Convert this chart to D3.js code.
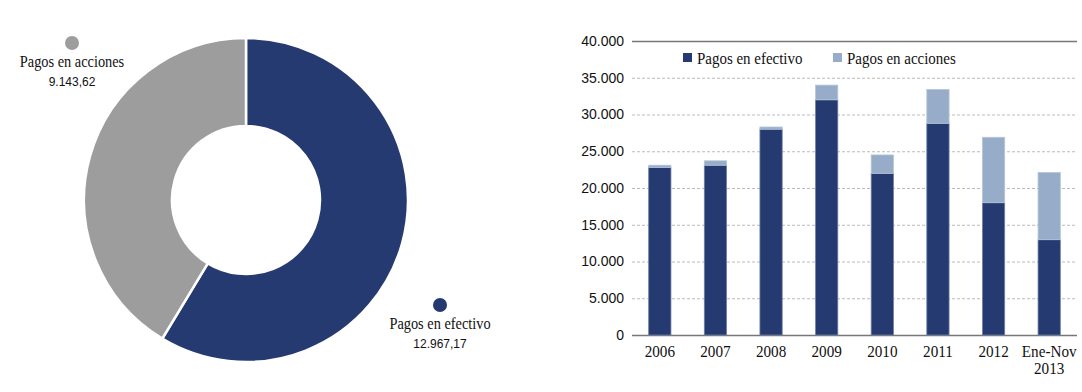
<!DOCTYPE html>
<html>
<head>
<meta charset="utf-8">
<script src="https://cdn.jsdelivr.net/npm/d3@7"></script>
<style>
  body { margin: 0; background: #fff; }
  svg { display: block; }
</style>
</head>
<body>
<svg id="chart" width="1082" height="392"></svg>
<script>
// donut data
var donutNames = ["Pagos en efectivo", "Pagos en acciones"];
var donutValues = [12967.17, 9143.62];
var donutLabels = ["12.967,17", "9.143,62"];

// bar data
var years = ["2006", "2007", "2008", "2009", "2010", "2011", "2012", "Ene-Nov 2013"];
var cashValues = [22800, 23100, 28000, 32000, 22000, 28800, 18000, 12967];
var shareValues = [300, 600, 300, 2000, 2500, 4600, 8900, 9144];
var yTicks = [0, 5000, 10000, 15000, 20000, 25000, 30000, 35000, 40000];

var navy = "#253a70";
var lightBlue = "#97acc8";
var grey = "#9d9d9d";
var serif = "'Liberation Serif', 'Times New Roman', serif";
var sans = "'Liberation Sans', Arial, sans-serif";

var svg = d3.select("#chart");
var fmt = d3.formatLocale({decimal: ",", thousands: ".", grouping: [3], currency: ["", ""]}).format(",d");

// ---- donut ----
var cx = 246, cy = 200;
var pie = d3.pie().sort(null).value(d => d)(donutValues);
var arc = d3.arc().innerRadius(74).outerRadius(162);
var donut = svg.append("g").attr("transform", `translate(${cx},${cy})`);
donut.selectAll("path").data(pie).join("path")
	.attr("d", arc)
	.attr("fill", (d, i) => i == 0 ? navy : grey)
	.attr("stroke", "#fff")
	.attr("stroke-width", 2.5);

var donutLabelPos = [{x: 440, y: 329}, {x: 72, y: 67}];
var lab = svg.append("g").selectAll("g").data(donutNames).join("g")
	.attr("transform", (d, i) => `translate(${donutLabelPos[i].x},${donutLabelPos[i].y})`);
lab.append("circle").attr("cy", -24).attr("r", 7)
	.attr("fill", (d, i) => i == 0 ? navy : grey);
lab.append("text").attr("text-anchor", "middle")
	.attr("transform", "scale(0.87,1)")
	.style("font-family", serif).style("font-size", "16.5px")
	.attr("fill", "#111").text(d => d);
lab.append("text").attr("text-anchor", "middle").attr("y", 19)
	.style("font-family", sans).style("font-size", "12px")
	.attr("fill", "#111").text((d, i) => donutLabels[i]);

// ---- bars ----
var plotL = 632, plotR = 1077, plotT = 41, plotB = 335;
var x = d3.scaleBand().domain(years).range([plotL, plotR]).paddingInner(0.6).paddingOuter(0.3);
var y = d3.scaleLinear().domain([0, 40000]).range([plotB, plotT]);

var grid = svg.append("g");
grid.selectAll("line").data(yTicks).join("line")
	.attr("x1", plotL).attr("x2", plotR)
	.attr("y1", d => y(d) + 0.5).attr("y2", d => y(d) + 0.5)
	.attr("stroke", d => (d == 0 || d == 40000) ? "#777" : "#bbb")
	.attr("stroke-width", d => (d == 0 || d == 40000) ? 1.3 : 1)
	.attr("stroke-dasharray", d => (d == 0 || d == 40000) ? null : "3,2");

var yAxis = svg.append("g").attr("transform", `translate(${plotL},0)`)
	.call(d3.axisLeft(y).tickValues(yTicks).tickSize(0).tickPadding(8).tickFormat(fmt));
yAxis.select(".domain").remove();
yAxis.selectAll("text").style("font-family", sans).style("font-size", "14px").attr("fill", "#111");

var stack = years.map((yr, i) => ({yr: yr, cash: cashValues[i], share: shareValues[i]}));
var bars = svg.append("g");
bars.selectAll("rect.cash").data(stack).join("rect").attr("class", "cash")
	.attr("x", d => x(d.yr)).attr("width", x.bandwidth())
	.attr("y", d => y(d.cash)).attr("height", d => y(0) - y(d.cash))
	.attr("fill", navy).attr("stroke", "#6f7fa3").attr("stroke-width", 0.8);
bars.selectAll("rect.share").data(stack).join("rect").attr("class", "share")
	.attr("x", d => x(d.yr)).attr("width", x.bandwidth())
	.attr("y", d => y(d.cash + d.share)).attr("height", d => y(d.cash) - y(d.cash + d.share))
	.attr("fill", lightBlue).attr("stroke", "#b6c5d9").attr("stroke-width", 0.8);

// x labels, the last one on two lines
var xl = svg.append("g").selectAll("text").data(years).join("text")
	.attr("transform", d => `translate(${x(d) + x.bandwidth() / 2},357) scale(0.92,1)`)
	.attr("text-anchor", "middle")
	.style("font-family", serif).style("font-size", "16.5px").attr("fill", "#111");
xl.each(function(d) {
	var parts = d == "Ene-Nov 2013" ? ["Ene-Nov", "2013"] : [d];
	d3.select(this).selectAll("tspan").data(parts).join("tspan")
		.attr("x", 0)
		.attr("dy", (p, j) => j == 0 ? 0 : 17)
		.text(p => p);
});

// legend
var legend = [{name: "Pagos en efectivo", color: navy, x: 683}, {name: "Pagos en acciones", color: lightBlue, x: 833}];
var lg = svg.append("g").selectAll("g").data(legend).join("g")
	.attr("transform", d => `translate(${d.x},53)`);
lg.append("rect").attr("width", 9).attr("height", 9).attr("fill", d => d.color);
lg.append("text").attr("transform", "translate(14,11) scale(0.88,1)")
	.style("font-family", serif).style("font-size", "17px")
	.attr("fill", "#111")
	.text(d => d.name);
</script>
</body>
</html>
